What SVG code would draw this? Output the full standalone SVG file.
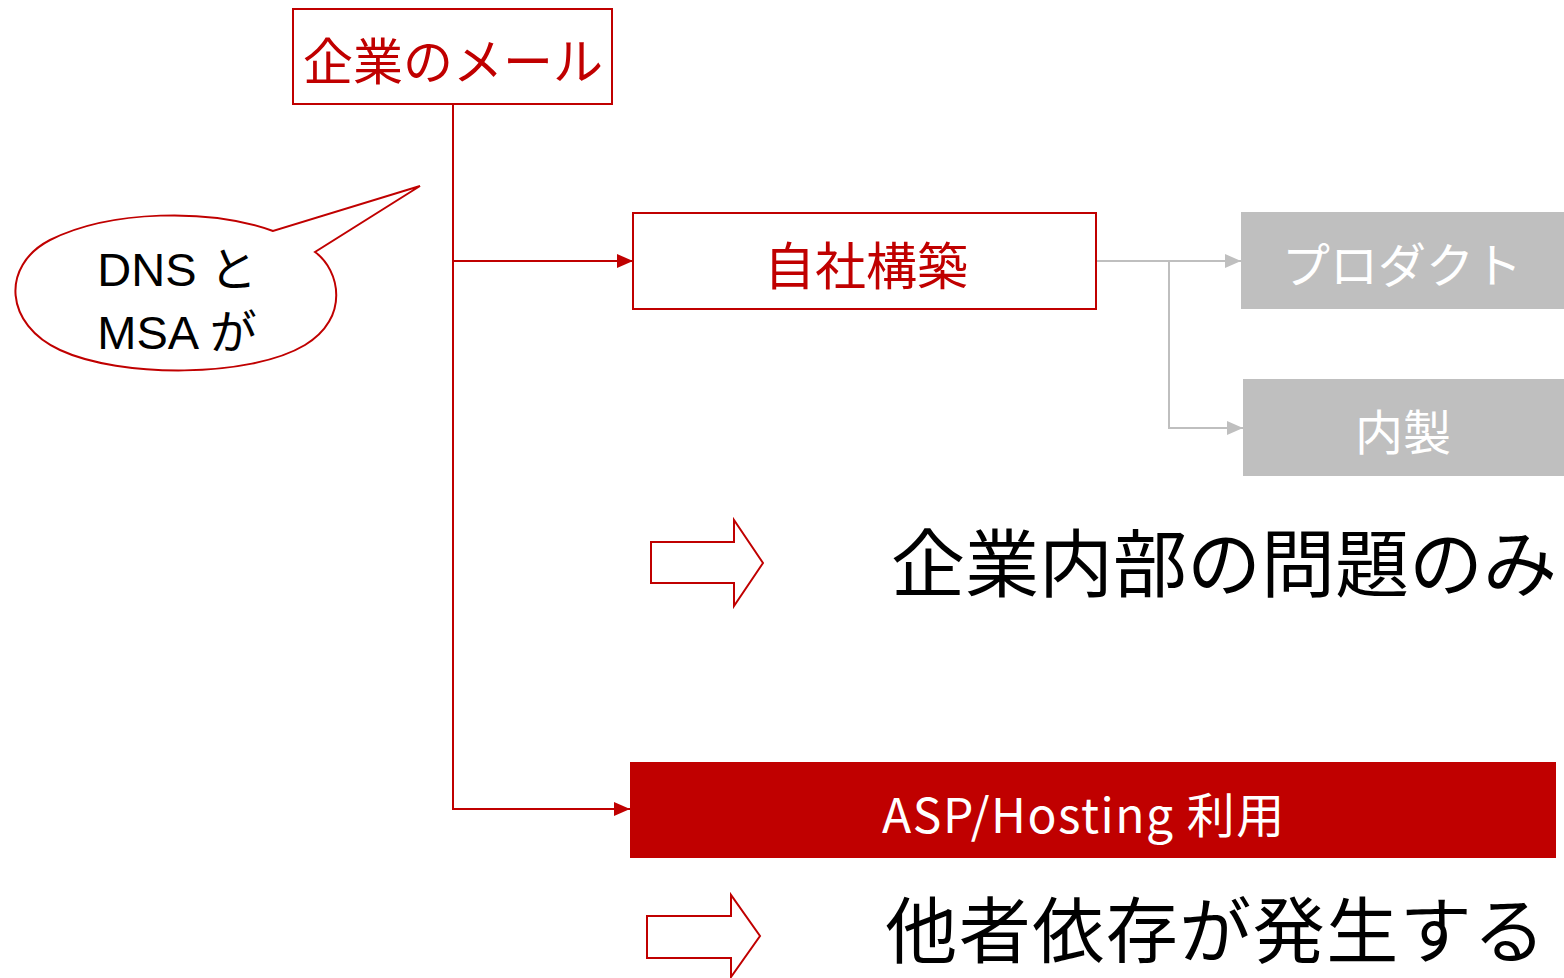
<svg xmlns="http://www.w3.org/2000/svg" width="1564" height="978" viewBox="0 0 1564 978">
<defs>
<style>
.jp{font-family:"Noto Sans CJK JP","Liberation Sans",sans-serif;}
.red{fill:#c00000;}
.box{fill:#fff;stroke:#c00000;stroke-width:2;}
.gbox{fill:#bfbfbf;}
.conn{fill:none;stroke:#c00000;stroke-width:2;}
.gconn{fill:none;stroke:#bfbfbf;stroke-width:2;}
.wt{fill:#fff;}
.lat{font-family:"Liberation Sans","Noto Sans CJK JP",sans-serif;}
</style>
<marker id="ar" markerWidth="16" markerHeight="14" refX="16" refY="7" orient="auto" markerUnits="userSpaceOnUse"><path d="M0,0 L16,7 L0,14 Z" fill="#c00000"/></marker>
<marker id="ag" markerWidth="16" markerHeight="14" refX="16" refY="7" orient="auto" markerUnits="userSpaceOnUse"><path d="M0,0 L16,7 L0,14 Z" fill="#bfbfbf"/></marker>
</defs>
<rect width="1564" height="978" fill="#fff"/>
<g id="connectors">
<path class="conn" d="M453,104 V809 H630" marker-end="url(#ar)"/>
<path class="conn" d="M453,261 H633" marker-end="url(#ar)"/>
<path class="gconn" d="M1096,261 H1241" marker-end="url(#ag)"/>
<path class="gconn" d="M1169,261 V428 H1243" marker-end="url(#ag)"/>
</g>
<g id="node-mail">
<rect class="box" x="293" y="9" width="319" height="95"/>
<text class="jp red" x="453" y="80" font-size="50" text-anchor="middle">企業のメール</text>
</g>
<g id="node-self">
<rect class="box" x="633" y="213" width="463" height="96"/>
<text class="jp red" x="866" y="285" font-size="51" text-anchor="middle">自社構築</text>
</g>
<g id="node-product">
<rect class="gbox" x="1241" y="212" width="323" height="97"/>
<text class="jp wt" x="1402" y="283" font-size="48" text-anchor="middle">プロダクト</text>
</g>
<g id="node-inhouse">
<rect class="gbox" x="1243" y="379" width="321" height="97"/>
<text class="jp wt" x="1403" y="450" font-size="48" text-anchor="middle">内製</text>
</g>
<g id="node-asp">
<rect x="630" y="762" width="926" height="96" fill="#c00000"/>
<text class="jp wt" x="1084" y="833" font-size="48" letter-spacing="1.5" text-anchor="middle">ASP/Hosting 利用</text>
</g>
<g id="callout">
<path d="M273,231 C210,208 110,210 50,240 C0,266 5,325 60,350 C120,378 250,378 305,345 C350,318 340,270 315,252 L420,186 Z" fill="#fff" stroke="#c00000" stroke-width="2"/>
<text class="lat" x="177" y="286" font-size="47" text-anchor="middle">DNS と</text>
<text class="lat" x="177" y="349" font-size="47" text-anchor="middle">MSA が</text>
</g>
<g id="arrow1">
<path d="M651,542 H734 V520 L763,563 L734,606 V583 H651 Z" fill="#fff" stroke="#c00000" stroke-width="2"/>
</g>
<g id="result1">
<text class="jp" x="1224" y="591" font-size="74" text-anchor="middle" fill="#000">企業内部の問題のみ</text>
</g>
<g id="arrow2">
<path d="M647,916 H731 V895 L760,936 L731,977 V958 H647 Z" fill="#fff" stroke="#c00000" stroke-width="2"/>
</g>
<g id="result2">
<text class="jp" x="1216" y="957" font-size="72" letter-spacing="1.5" text-anchor="middle" fill="#000">他者依存が発生する</text>
</g>
</svg>
